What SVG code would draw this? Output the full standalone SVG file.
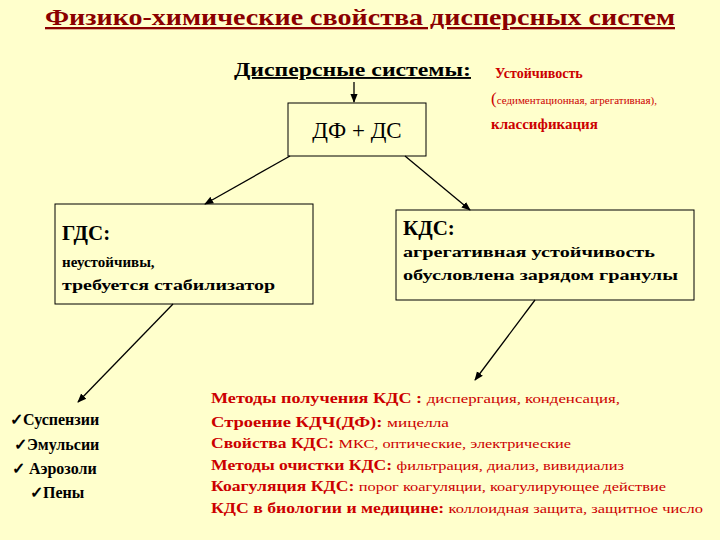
<svg xmlns="http://www.w3.org/2000/svg" width="720" height="540" viewBox="0 0 720 540">
<style>
text{font-family:"Liberation Serif","Times New Roman","DejaVu Serif",serif;font-weight:bold}
.box{fill:#FFFFCC;stroke:#000;stroke-width:1}
.k{fill:#000}
.n{font-weight:normal}
.c line{stroke:#000;stroke-width:1.3;marker-end:url(#a)}
</style>
<defs><marker id="a" viewBox="0 0 10 10" refX="9" refY="5" markerWidth="7" markerHeight="7" orient="auto"><path d="M0,1 L10,5 L0,9 z" fill="#000"/></marker></defs>
<rect width="720" height="540" fill="#FFFFCC"/>
<text x="45" y="25" font-size="23" fill="#8B0000" text-decoration="underline" textLength="630" lengthAdjust="spacingAndGlyphs">Физико-химические свойства дисперсных систем</text>
<g id="header"><text x="234" y="76" font-size="19" class="k" text-decoration="underline" textLength="237" lengthAdjust="spacingAndGlyphs">Дисперсные системы:</text></g>
<g id="note" font-size="14">
<text x="495" y="78" font-size="14" fill="#CC0000">Устойчивость</text>
<text x="491" y="104" fill="#CC0000" font-size="17" class="n">(<tspan font-size="11">седиментационная, агрегативная),</tspan></text>
<text x="491" y="129" fill="#CC0000" font-size="15">классификация</text>
</g>
<g id="dfds"><rect class="box" x="288" y="103" width="138" height="53"/><text x="357" y="138" text-anchor="middle" font-size="23" class="n k">ДФ + ДС</text></g>
<g id="gds"><rect class="box" x="55" y="204" width="258" height="100"/>
<text x="62" y="240" font-size="21" class="k">ГДС:</text>
<text x="62" y="267" font-size="15" class="k">неустойчивы,</text>
<text x="62" y="290" font-size="15" class="k" textLength="213" lengthAdjust="spacingAndGlyphs">требуется стабилизатор</text></g>
<g id="kds"><rect class="box" x="396" y="210" width="298" height="90"/>
<text x="403" y="235" font-size="21" class="k">КДС:</text>
<text x="403" y="257" font-size="15" class="k" textLength="252" lengthAdjust="spacingAndGlyphs">агрегативная устойчивость</text>
<text x="403" y="280" font-size="15" class="k" textLength="275" lengthAdjust="spacingAndGlyphs">обусловлена зарядом гранулы</text></g>
<g id="types" font-size="16" class="k">
<text x="10" y="425">✓Суспензии</text>
<text x="14" y="450">✓Эмульсии</text>
<text x="12" y="474">✓ Аэрозоли</text>
<text x="30" y="498">✓Пены</text></g>
<g id="list" font-size="14" fill="#CC0000">
<text x="211" y="403" textLength="409" lengthAdjust="spacingAndGlyphs">Методы  получения КДС  : <tspan class="n" font-size="13">диспергация, конденсация,</tspan></text>
<text x="211" y="427" textLength="238" lengthAdjust="spacingAndGlyphs">Строение  КДЧ(ДФ):  <tspan class="n" font-size="13">мицелла</tspan></text>
<text x="211" y="448" textLength="360" lengthAdjust="spacingAndGlyphs">Свойства КДС: <tspan class="n" font-size="13">МКС, оптические, электрические</tspan></text>
<text x="211" y="470" textLength="413" lengthAdjust="spacingAndGlyphs">Методы очистки КДС: <tspan class="n" font-size="13">фильтрация, диализ, вивидиализ</tspan></text>
<text x="211" y="491" textLength="455" lengthAdjust="spacingAndGlyphs">Коагуляция КДС: <tspan class="n" font-size="13">порог коагуляции, коагулирующее действие</tspan></text>
<text x="211" y="513" textLength="492" lengthAdjust="spacingAndGlyphs">КДС в биологии и медицине: <tspan class="n" font-size="13">коллоидная защита, защитное число</tspan></text>
</g>
<g id="connectors" class="c">
<line x1="354" y1="82" x2="354" y2="102"/>
<line x1="290" y1="156" x2="205" y2="204"/>
<line x1="405" y1="156" x2="470" y2="210"/>
<line x1="173" y1="304" x2="78" y2="402"/>
<line x1="535" y1="300" x2="475" y2="380"/>
</g>
</svg>
